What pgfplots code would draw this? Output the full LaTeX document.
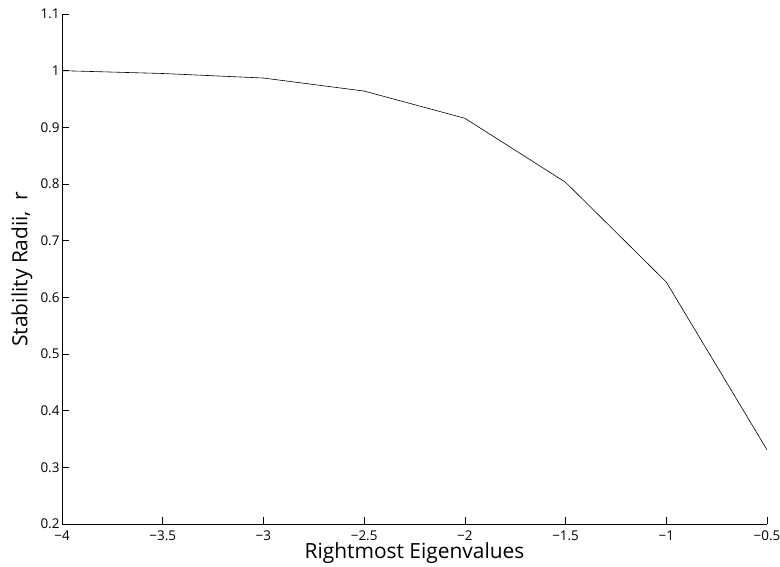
\documentclass[border=0pt]{standalone}
\usepackage{fontspec}
\setmainfont{Open Sans}
\usepackage{pgfplots}
\pgfplotsset{compat=1.18}
\begin{document}
\begin{tikzpicture}
\begin{axis}[name=ax,
  scale only axis, width=705bp, height=510bp,
  xmin=-4, xmax=-0.5, ymin=0.2, ymax=1.1,
  axis x line*=bottom, axis y line*=left,
  axis line style={line width=0.8pt,-},
  tick align=inside, major tick length=7bp,
  tick style={line width=0.6pt,black},
  xtick={-4,-3.5,-3,-2.5,-2,-1.5,-1,-0.5},
  xticklabels={{−4},{−3.5},{−3},{−2.5},{−2},{−1.5},{−1},{−0.5}},
  ytick={0.2,0.3,0.4,0.5,0.6,0.7,0.8,0.9,1,1.1},
  yticklabels={0.2,0.3,0.4,0.5,0.6,0.7,0.8,0.9,1,1.1},
  ticklabel style={font=\fontsize{13.5}{15}\selectfont},
  xticklabel style={yshift=-3bp},
  yticklabel style={xshift=1bp},
  xlabel={Rightmost Eigenvalues}, ylabel={Stability Radii,\ \ r},
  label style={font=\fontsize{21}{24}\selectfont},
  xlabel style={at={(axis description cs:0.5,-0.0680)}, anchor=base},
  ylabel style={at={(axis description cs:-0.0567,0.5)}, anchor=center},
]
\addplot[black, line width=0.6pt] coordinates {
(-4,1.000) (-3.5,0.995) (-3,0.987) (-2.5,0.964) (-2,0.916) (-1.5,0.803) (-1,0.627) (-0.5,0.331)
};
\end{axis}
\pgfresetboundingbox
\path[use as bounding box] ([shift={(-62bp,-43bp)}]ax.south west) rectangle ([shift={(13bp,14bp)}]ax.north east);
\end{tikzpicture}
\end{document}
